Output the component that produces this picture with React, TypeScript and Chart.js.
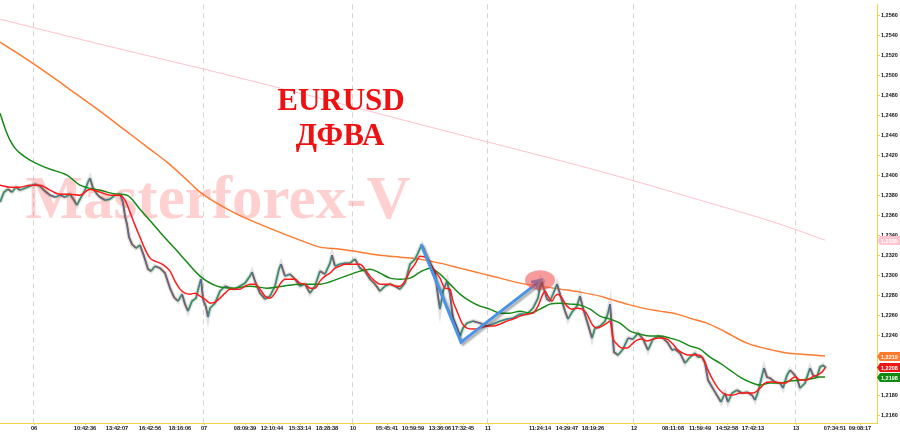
import React, { useEffect, useRef } from 'react';
import { Chart, registerables } from 'chart.js';
Chart.register(...registerables);

// ---------------- DATA ----------------
const X_MIN = 0;
const X_MAX = 877;
const Y_MIN = 1.21521;
const Y_MAX = 1.25709;

const yTickValues = [
  1.216, 1.218, 1.22, 1.222, 1.224, 1.226, 1.228, 1.23, 1.232, 1.234, 1.236,
  1.238, 1.24, 1.242, 1.244, 1.246, 1.248, 1.25, 1.252, 1.254, 1.256,
];

const xTickPositions = [
  34, 85, 117, 150, 180, 204, 245, 272, 300, 327, 353, 387, 413, 440, 463, 488,
  540, 567, 593, 634, 673, 700, 727, 753, 796, 835, 860,
];
const xTickLabels = [
  '06', '10:42:36', '13:42:07', '16:42:56', '18:16:06', '07', '08:09:39', '12:10:44',
  '15:33:14', '18:28:38', '10', '05:45:41', '10:59:59', '13:36:06', '17:32:45', '11',
  '11:24:14', '14:29:47', '18:19:26', '12', '08:11:08', '11:59:49', '14:52:58',
  '17:42:13', '13', '07:34:51', '09:08:17',
];
const dayGridPositions = [33, 203, 352, 487, 633, 795];

// price (bar index, close)
const priceBars: [number, number][] = [
  [0, 1.2373], [4, 1.2383], [8, 1.2386], [12, 1.2383], [16, 1.2388], [20, 1.2385], [25, 1.2387], [30, 1.2389], [35, 1.2391], [40, 1.2389],
  [45, 1.2384], [50, 1.238], [55, 1.2378], [60, 1.238], [65, 1.2378], [70, 1.2381], [74, 1.2375], [77, 1.237], [80, 1.2376], [85, 1.2385],
  [88, 1.2393], [90, 1.2397], [93, 1.2387], [97, 1.2381], [100, 1.2378], [105, 1.2375], [110, 1.2376], [115, 1.238], [120, 1.2381], [123, 1.2373],
  [125, 1.2359], [127, 1.2351], [129, 1.2338], [132, 1.2331], [136, 1.2327], [140, 1.233], [144, 1.2319], [148, 1.2306], [151, 1.2304], [155, 1.2309],
  [160, 1.2307], [165, 1.2302], [170, 1.2287], [174, 1.2278], [178, 1.2274], [182, 1.2281], [185, 1.2271], [188, 1.2264], [192, 1.2274], [196, 1.2277],
  [199, 1.2289], [201, 1.2296], [203, 1.2276], [206, 1.2268], [208, 1.2258], [210, 1.2267], [215, 1.2272], [220, 1.2284], [225, 1.2289], [230, 1.2287],
  [235, 1.2286], [240, 1.2289], [245, 1.2292], [250, 1.2299], [252, 1.2303], [255, 1.2294], [260, 1.2282], [265, 1.2276], [270, 1.2279], [275, 1.2289],
  [279, 1.2306], [281, 1.2311], [285, 1.2299], [290, 1.2301], [295, 1.2296], [300, 1.2289], [305, 1.2291], [310, 1.2282], [315, 1.2289], [320, 1.2304],
  [325, 1.2301], [330, 1.2312], [332, 1.232], [335, 1.2309], [340, 1.2311], [345, 1.2312], [350, 1.2312], [355, 1.2316], [360, 1.2307], [365, 1.2304],
  [370, 1.2296], [375, 1.2291], [380, 1.2284], [385, 1.2289], [390, 1.2291], [395, 1.2289], [400, 1.2286], [405, 1.2292], [410, 1.2311], [415, 1.2316],
  [418, 1.2322], [420, 1.2327], [422, 1.233], [425, 1.2322], [430, 1.2312], [435, 1.2302], [438, 1.2279], [440, 1.2266], [443, 1.2284], [447, 1.2294],
  [450, 1.2281], [453, 1.2257], [457, 1.2247], [460, 1.2239], [463, 1.2247], [467, 1.2252], [473, 1.2254], [480, 1.2252], [487, 1.2249], [493, 1.2251],
  [500, 1.2254], [507, 1.2256], [513, 1.2257], [520, 1.2261], [527, 1.2261], [533, 1.2267], [538, 1.2277], [541, 1.2294], [544, 1.2286], [547, 1.2276],
  [550, 1.2274], [553, 1.2281], [557, 1.2291], [560, 1.2281], [565, 1.2264], [568, 1.2256], [572, 1.2263], [577, 1.2269], [580, 1.2279], [583, 1.2267],
  [587, 1.2254], [592, 1.2237], [595, 1.2247], [600, 1.2249], [605, 1.2254], [608, 1.2262], [610, 1.2271], [612, 1.2247], [614, 1.2223], [618, 1.222],
  [623, 1.2226], [628, 1.2237], [633, 1.2236], [638, 1.2242], [643, 1.2236], [648, 1.2225], [653, 1.2236], [658, 1.2239], [663, 1.2237], [668, 1.2232],
  [672, 1.2225], [675, 1.2226], [680, 1.2222], [685, 1.2212], [690, 1.2218], [695, 1.2222], [698, 1.2218], [702, 1.2218], [705, 1.2212], [708, 1.2195],
  [712, 1.2188], [715, 1.2183], [718, 1.2178], [721, 1.2173], [725, 1.2182], [728, 1.2173], [732, 1.2182], [737, 1.2185], [742, 1.2182], [747, 1.2183],
  [752, 1.218], [755, 1.2175], [758, 1.2183], [762, 1.2199], [764, 1.2207], [767, 1.2198], [770, 1.2197], [775, 1.2193], [780, 1.2192], [783, 1.2187],
  [787, 1.22], [790, 1.2205], [793, 1.2202], [797, 1.2197], [800, 1.2187], [805, 1.2192], [810, 1.2207], [813, 1.22], [817, 1.2198], [820, 1.2208],
  [823, 1.221], [826, 1.2207],
];

const redMA: [number, number][] = [
  [0, 1.239], [10, 1.2388], [20, 1.2388], [30, 1.239], [40, 1.239], [50, 1.2385], [60, 1.2381], [70, 1.2381], [80, 1.238], [90, 1.2386],
  [100, 1.2383], [110, 1.238], [120, 1.238], [125, 1.2375], [130, 1.2363], [135, 1.235], [140, 1.2338], [145, 1.2326], [150, 1.2317], [155, 1.2314],
  [160, 1.2312], [165, 1.2309], [170, 1.2304], [175, 1.2294], [180, 1.2286], [185, 1.2282], [190, 1.2281], [195, 1.2282], [200, 1.2279], [205, 1.2276],
  [210, 1.2272], [215, 1.2273], [220, 1.2277], [225, 1.2282], [230, 1.2286], [235, 1.2286], [240, 1.2286], [245, 1.2289], [250, 1.2291], [255, 1.2291],
  [260, 1.2286], [265, 1.2279], [270, 1.2277], [275, 1.2282], [280, 1.2291], [285, 1.2296], [290, 1.2296], [295, 1.2296], [300, 1.2292], [305, 1.2291],
  [310, 1.2287], [315, 1.2287], [320, 1.2294], [325, 1.2299], [330, 1.2302], [335, 1.2307], [340, 1.2309], [345, 1.2311], [350, 1.2311], [355, 1.2311],
  [360, 1.2311], [365, 1.2306], [370, 1.2299], [375, 1.2294], [380, 1.2291], [385, 1.2291], [390, 1.2291], [395, 1.2289], [400, 1.2289], [405, 1.2294],
  [410, 1.2304], [415, 1.2311], [420, 1.2319], [427, 1.2317], [433, 1.2307], [440, 1.2297], [445, 1.2287], [450, 1.2286], [453, 1.2274], [457, 1.2264],
  [462, 1.2252], [467, 1.2247], [473, 1.2246], [480, 1.2247], [487, 1.2249], [493, 1.2249], [500, 1.2251], [507, 1.2254], [513, 1.2256], [520, 1.2259],
  [527, 1.2261], [533, 1.2262], [538, 1.2269], [542, 1.2279], [545, 1.2284], [548, 1.2279], [552, 1.2274], [555, 1.2279], [558, 1.2281], [562, 1.2277],
  [567, 1.2269], [572, 1.2266], [577, 1.2267], [582, 1.2266], [587, 1.2261], [592, 1.2251], [597, 1.2247], [602, 1.2249], [607, 1.2252], [610, 1.2254],
  [613, 1.2237], [617, 1.2231], [622, 1.2227], [627, 1.2227], [632, 1.2231], [637, 1.2235], [642, 1.2236], [647, 1.2234], [653, 1.2236], [660, 1.2237],
  [667, 1.2236], [673, 1.2231], [678, 1.2225], [683, 1.2222], [688, 1.222], [693, 1.222], [698, 1.222], [703, 1.2217], [708, 1.2205], [713, 1.2195],
  [718, 1.2187], [723, 1.2182], [728, 1.218], [733, 1.218], [740, 1.2182], [747, 1.2182], [753, 1.2182], [760, 1.2187], [765, 1.2192], [770, 1.2193],
  [775, 1.2193], [780, 1.2192], [785, 1.2192], [790, 1.2195], [795, 1.2198], [800, 1.2195], [807, 1.2195], [812, 1.2198], [817, 1.22], [822, 1.2203],
  [825, 1.2207],
];

const greenMA: [number, number][] = [
  [0, 1.2462], [5, 1.2447], [10, 1.2435], [15, 1.2427], [20, 1.2422], [30, 1.2415], [40, 1.241], [50, 1.2406], [67, 1.24], [80, 1.239],
  [100, 1.2385], [117, 1.2381], [127, 1.238], [140, 1.2366], [160, 1.2343], [180, 1.2321], [200, 1.2299], [217, 1.2289], [233, 1.2287], [250, 1.2289],
  [267, 1.2287], [283, 1.2289], [300, 1.2291], [320, 1.2291], [340, 1.2297], [360, 1.2304], [370, 1.2306], [380, 1.2302], [390, 1.2297], [400, 1.2296],
  [410, 1.2297], [420, 1.2303], [430, 1.2307], [440, 1.2301], [450, 1.2291], [460, 1.2281], [470, 1.2274], [480, 1.2269], [490, 1.2266], [500, 1.2262],
  [510, 1.2262], [520, 1.2264], [530, 1.2262], [540, 1.2266], [550, 1.2271], [560, 1.2272], [570, 1.2271], [580, 1.227], [590, 1.2266], [600, 1.2259],
  [610, 1.2256], [620, 1.2252], [630, 1.2244], [640, 1.2241], [650, 1.2239], [660, 1.2239], [670, 1.2237], [680, 1.2234], [690, 1.2229], [700, 1.2226],
  [710, 1.2218], [720, 1.2212], [730, 1.2205], [740, 1.2198], [750, 1.2193], [760, 1.219], [770, 1.2192], [780, 1.2192], [790, 1.2194], [800, 1.2195],
  [810, 1.2196], [820, 1.2198], [825, 1.2198],
];

const orangeMA: [number, number][] = [
  [0, 1.2533], [25, 1.2517], [50, 1.25], [75, 1.2482], [100, 1.2464], [125, 1.2445], [150, 1.2426], [167, 1.2413], [185, 1.2397], [200, 1.2383],
  [233, 1.2363], [267, 1.2348], [300, 1.2335], [320, 1.2328], [340, 1.2326], [360, 1.2323], [380, 1.232], [400, 1.2318], [420, 1.2316], [440, 1.2312],
  [460, 1.2307], [480, 1.2302], [500, 1.2297], [520, 1.2292], [540, 1.2289], [560, 1.2286], [580, 1.2283], [600, 1.2279], [610, 1.2276], [627, 1.2271],
  [643, 1.2267], [660, 1.2264], [677, 1.2261], [693, 1.2256], [707, 1.2252], [720, 1.2246], [733, 1.2239], [747, 1.2232], [760, 1.2228], [773, 1.2225],
  [787, 1.2222], [800, 1.2221], [813, 1.222], [825, 1.2219],
];

const pinkMA: [number, number][] = [
  [0, 1.2556], [100, 1.2531], [200, 1.2507], [300, 1.2482], [400, 1.2456], [500, 1.243], [600, 1.2404], [700, 1.2375], [780, 1.2351], [825, 1.2335],
];

// last-value markers on the price axis
const markerValues = [1.2335, 1.2219, 1.2208, 1.2198];
const markerColors = ['#ffc4cf', '#ff7a2c', '#ee1515', '#108a10'];

// hand-drawn annotations (bar index, price)
const arrowPath: [number, number][] = [[421, 1.2331], [461, 1.2233], [541, 1.2295]];
const ellipseCenter: [number, number] = [540, 1.2295];

const titleLines = ['EURUSD', 'ДФВА'];
const watermark = 'Masterforex-V';

// ---------------- HELPERS ----------------
const toPts = (arr: [number, number][]) => arr.map(([x, y]) => ({ x, y }));
const fmt = (v: number) => v.toFixed(4).replace('.', ',');

const overlayPlugin = {
  id: 'overlay',
  beforeDatasetsDraw(chart: any) {
    const { ctx, chartArea } = chart;
    const xs = chart.scales.x;
    ctx.save();
    // day separators (dashed)
    ctx.strokeStyle = '#d4d4d4';
    ctx.lineWidth = 1;
    ctx.setLineDash([5, 4]);
    dayGridPositions.forEach((d) => {
      const px = Math.round(xs.getPixelForValue(d)) + 0.5;
      ctx.beginPath();
      ctx.moveTo(px, chartArea.top);
      ctx.lineTo(px, chartArea.bottom);
      ctx.stroke();
    });
    ctx.setLineDash([]);
    ctx.font = 'bold 61px "Liberation Serif", serif';
    ctx.fillStyle = 'rgba(255,110,110,0.32)';
    ctx.textAlign = 'center';
    ctx.textBaseline = 'alphabetic';
    ctx.fillText(watermark, 218, 218);
    ctx.restore();
  },
  afterDatasetsDraw(chart: any) {
    const { ctx } = chart;
    const xs = chart.scales.x;
    const ys = chart.scales.y;
    const pts = arrowPath.map(([a, b]) => [xs.getPixelForValue(a), ys.getPixelForValue(b)]);
    ctx.save();
    ctx.shadowColor = 'rgba(0,0,0,0.35)';
    ctx.shadowOffsetX = 2;
    ctx.shadowOffsetY = 2;
    ctx.shadowBlur = 2;
    ctx.strokeStyle = '#4a93e6';
    ctx.lineWidth = 3;
    ctx.lineJoin = 'miter';
    ctx.beginPath();
    ctx.moveTo(pts[0][0], pts[0][1]);
    for (let i = 1; i < pts.length; i++) ctx.lineTo(pts[i][0], pts[i][1]);
    ctx.stroke();
    const [x1, y1] = pts[pts.length - 2];
    const [x2, y2] = pts[pts.length - 1];
    const ang = Math.atan2(y2 - y1, x2 - x1);
    const L = 10;
    const A = 0.45;
    ctx.beginPath();
    ctx.moveTo(x2 - L * Math.cos(ang - A), y2 - L * Math.sin(ang - A));
    ctx.lineTo(x2, y2);
    ctx.lineTo(x2 - L * Math.cos(ang + A), y2 - L * Math.sin(ang + A));
    ctx.stroke();
    ctx.restore();

    ctx.save();
    ctx.fillStyle = 'rgba(236,72,72,0.55)';
    ctx.beginPath();
    ctx.ellipse(xs.getPixelForValue(ellipseCenter[0]), ys.getPixelForValue(ellipseCenter[1]), 15, 10, 0, 0, Math.PI * 2);
    ctx.fill();
    ctx.restore();
  },
  afterDraw(chart: any) {
    const { ctx } = chart;
    const ys = chart.scales.y;
    // title
    ctx.save();
    ctx.fillStyle = '#ee1111';
    ctx.font = 'bold 31px "Liberation Serif", serif';
    ctx.textAlign = 'center';
    ctx.textBaseline = 'alphabetic';
    ctx.fillText(titleLines[0], 341, 110);
    ctx.fillText(titleLines[1], 340, 145);
    ctx.restore();
    // markers
    const left = ys.left;
    ctx.save();
    ctx.font = 'bold 5.5px "Liberation Sans", sans-serif';
    ctx.textBaseline = 'middle';
    ctx.textAlign = 'left';
    markerValues.forEach((v, i) => {
      const py = Math.round(ys.getPixelForValue(v)) + 0.5;
      ctx.fillStyle = markerColors[i];
      ctx.beginPath();
      ctx.moveTo(left, py);
      ctx.lineTo(left + 3, py - 4.5);
      ctx.lineTo(900, py - 4.5);
      ctx.lineTo(900, py + 4.5);
      ctx.lineTo(left + 3, py + 4.5);
      ctx.closePath();
      ctx.fill();
      ctx.fillStyle = '#ffffff';
      ctx.fillText(fmt(v), left + 4, py + 0.5);
    });
    ctx.restore();
  },
};

export default function App() {
  const canvasRef = useRef<HTMLCanvasElement | null>(null);

  useEffect(() => {
    const canvas = canvasRef.current;
    if (!canvas) return;
    const pricePts = toPts(priceBars);
    const chart = new Chart(canvas, {
      type: 'line',
      data: {
        datasets: [
          {
            label: 'MA red',
            data: toPts(redMA),
            borderColor: '#ff1a1a',
            borderWidth: 1.5,
            pointRadius: 0,
            cubicInterpolationMode: 'monotone',
            order: 0,
          },
          {
            label: 'MA green',
            data: toPts(greenMA),
            borderColor: '#168a16',
            borderWidth: 1.5,
            pointRadius: 0,
            cubicInterpolationMode: 'monotone',
            order: 1,
          },
          {
            label: 'MA blue',
            data: pricePts,
            borderColor: '#4460f0',
            borderWidth: 0.8,
            pointRadius: 0,
            order: 2,
          },
          {
            label: 'Price',
            data: pricePts,
            borderWidth: 2,
            pointRadius: 0,
            segment: {
              borderColor: (c: any) => (c.p1.parsed.y >= c.p0.parsed.y ? '#4fb030' : '#8f6a22'),
            },
            borderColor: '#6b6b2a',
            order: 3,
          },
          {
            label: 'Shadow',
            data: pricePts,
            borderColor: 'rgba(120,120,120,0.2)',
            borderWidth: 4.5,
            pointRadius: 0,
            order: 4,
          },
          {
            label: 'MA orange',
            data: toPts(orangeMA),
            borderColor: '#ff7a30',
            borderWidth: 1.5,
            pointRadius: 0,
            cubicInterpolationMode: 'monotone',
            order: 5,
          },
          {
            label: 'MA pink',
            data: toPts(pinkMA),
            borderColor: '#ffc2cc',
            borderWidth: 1,
            pointRadius: 0,
            cubicInterpolationMode: 'monotone',
            order: 6,
          },
        ] as any,
      },
      options: {
        animation: false,
        responsive: false,
        events: [],
        layout: { padding: 0 },
        plugins: {
          legend: { display: false },
          tooltip: { enabled: false },
          title: { display: false },
        },
        scales: {
          x: {
            type: 'linear',
            position: 'bottom',
            min: X_MIN,
            max: X_MAX,
            afterBuildTicks: (s: any) => {
              s.ticks = xTickPositions.map((v) => ({ value: v }));
            },
            afterFit: (s: any) => {
              s.height = 9;
            },
            ticks: {
              autoSkip: false,
              maxRotation: 0,
              minRotation: 0,
              padding: 0,
              color: '#111',
              font: { size: 5.6, weight: 'bold', family: '"Liberation Sans", sans-serif' },
              callback: (_v: any, i: number) => xTickLabels[i],
            },
            grid: {
              drawOnChartArea: false,
              tickColor: '#f2d24a',
              tickLength: 2,
            },
            border: { color: '#f2d24a', width: 1 },
          },
          y: {
            type: 'linear',
            position: 'right',
            min: Y_MIN,
            max: Y_MAX,
            afterBuildTicks: (s: any) => {
              s.ticks = yTickValues.map((v) => ({ value: v }));
            },
            afterFit: (s: any) => {
              s.width = 23;
            },
            ticks: {
              padding: 1,
              color: '#111',
              font: { size: 5.5, weight: 'bold', family: '"Liberation Sans", sans-serif' },
              callback: (v: any) => fmt(Number(v)),
            },
            grid: {
              drawOnChartArea: false,
              tickColor: '#f2d24a',
              tickLength: 3,
            },
            border: { color: '#f2d24a', width: 1 },
          },
        },
      } as any,
      plugins: [overlayPlugin],
    });
    return () => chart.destroy();
  }, []);

  return (
    <div style={{ position: 'fixed', left: 0, top: 0, width: 900, height: 432, background: '#fff' }}>
      <canvas ref={canvasRef} width={900} height={432} style={{ display: 'block', width: 900, height: 432 }} />
    </div>
  );
}
